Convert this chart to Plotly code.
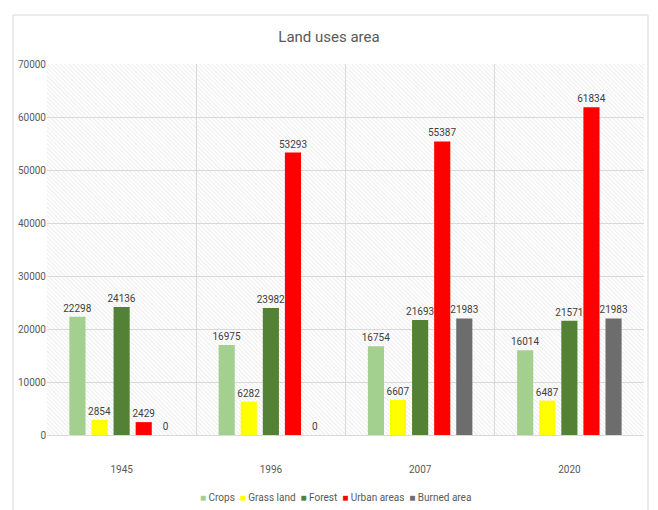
import base64
import plotly.graph_objects as go

# Land use area by year (hectares)
years = ["1945", "1996", "2007", "2020"]
crops = [22298, 16975, 16754, 16014]
grass_land = [2854, 6282, 6607, 6487]
forest = [24136, 23982, 21693, 21571]
urban_areas = [2429, 53293, 55387, 61834]
burned_area = [0, 0, 21983, 21983]

series = [
    ("Crops", crops, "#a3cf8f"),
    ("Grass land", grass_land, "#ffff00"),
    ("Forest", forest, "#538135"),
    ("Urban areas", urban_areas, "#ff0000"),
    ("Burned area", burned_area, "#6d6d6d"),
]

FONT = "Roboto, sans-serif"
TEXT_GRAY = "#595959"

x_pos = list(range(len(years)))

fig = go.Figure()
for name, vals, color in series:
    fig.add_trace(go.Bar(
        x=x_pos, y=vals, name=name,
        marker=dict(color=color, line=dict(width=0)),
        text=[str(v) for v in vals],
        textposition="outside",
        textangle=0,
        textfont=dict(size=10, color="#404040", family=FONT),
        cliponaxis=False,
        showlegend=False,
    ))

# Compact legend row: coloured square followed by series name
legend_html = "&nbsp;&nbsp;".join(
    f'<span style="color:{c}">■</span>&nbsp;{n}' for n, _, c in series
)

# Fine diagonal hatching for the plot background
hatch_svg = (
    '<svg xmlns="http://www.w3.org/2000/svg" width="600" height="372">'
    '<defs><pattern id="h" width="3" height="3" patternUnits="userSpaceOnUse" '
    'patternTransform="rotate(-45)">'
    '<rect width="3" height="3" fill="#ffffff"/>'
    '<line x1="0" y1="0" x2="0" y2="3" stroke="#e4e4e4" stroke-width="1.3"/>'
    '</pattern></defs>'
    '<rect width="600" height="372" fill="url(#h)"/></svg>'
)
hatch_uri = "data:image/svg+xml;base64," + base64.b64encode(hatch_svg.encode()).decode()

fig.update_layout(
    width=658, height=510,
    margin=dict(l=47, r=14, t=64, b=75),
    paper_bgcolor="white",
    plot_bgcolor="#f5f5f5",
    barmode="group",
    bargap=0.26,
    bargroupgap=0.27,
    uniformtext=dict(minsize=10, mode="show"),
    font=dict(family=FONT, color=TEXT_GRAY, size=10),
    title=dict(
        text="Land uses area",
        x=0.5, xanchor="center",
        y=1 - 37 / 510, yanchor="middle",
        font=dict(size=15, color=TEXT_GRAY, family=FONT),
    ),
    showlegend=False,
    annotations=[dict(
        text=legend_html, xref="paper", yref="paper",
        x=(335 - 47) / 597, y=(435 - 497) / 371,
        xanchor="center", yanchor="middle", showarrow=False,
        font=dict(size=10, color=TEXT_GRAY, family=FONT),
    )],
    xaxis=dict(
        range=[-0.5, 3.5],
        tickvals=x_pos, ticktext=years,
        showgrid=False,
        showline=True, linecolor="#d9d9d9", linewidth=1,
        ticks="",
        ticklabelstandoff=25,
        tickfont=dict(size=10, color=TEXT_GRAY),
        minor=dict(tick0=0.5, dtick=1, showgrid=True, gridcolor="#d9d9d9", gridwidth=1),
        zeroline=False,
    ),
    yaxis=dict(
        range=[0, 70000],
        dtick=10000,
        showgrid=True, gridcolor="#d9d9d9", gridwidth=1,
        zeroline=False,
        showline=False,
        ticks="",
        tickfont=dict(size=10, color=TEXT_GRAY),
        tickformat="d",
    ),
    images=[dict(
        source=hatch_uri, xref="paper", yref="paper",
        x=0, y=1, sizex=1, sizey=1, sizing="stretch",
        xanchor="left", yanchor="top", layer="below",
    )],
    shapes=[dict(
        type="rect", xref="paper", yref="paper",
        x0=(13 - 47) / 597, x1=(648 - 47) / 597,
        y0=(435 - 520) / 371, y1=(435 - 15) / 371,
        line=dict(color="#d9d9d9", width=1), fillcolor="rgba(0,0,0,0)",
        layer="below",
    )],
)

fig.write_html("out.html")
